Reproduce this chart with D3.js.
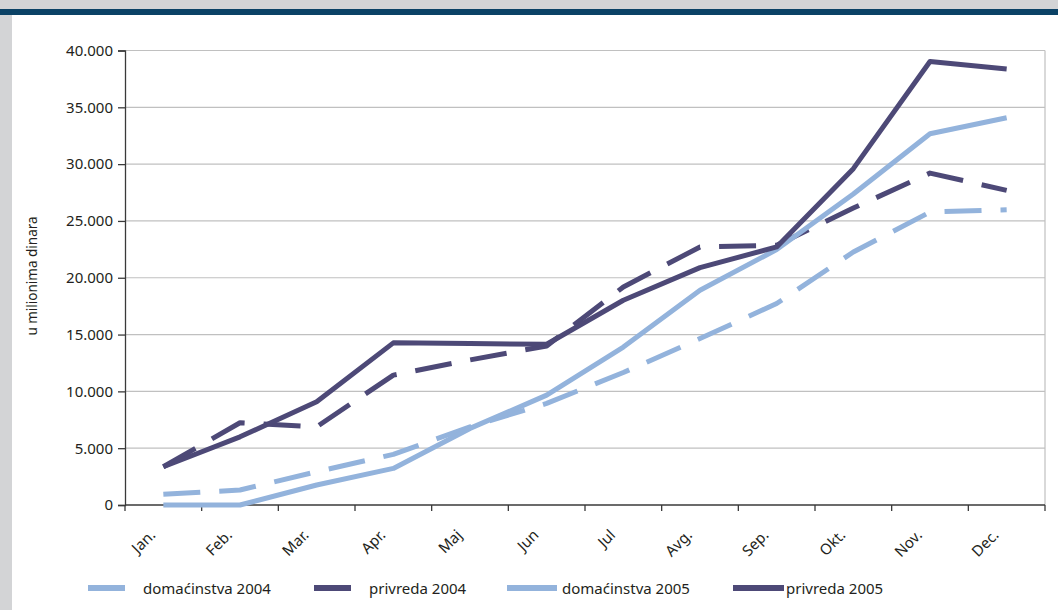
<!DOCTYPE html>
<html>
<head>
<meta charset="utf-8">
<script src="https://cdn.jsdelivr.net/npm/d3@7"></script>
<style>
  html, body { margin: 0; padding: 0; background: #ffffff; }
  svg { display: block; font-family: "Noto Sans", "Open Sans", sans-serif; }
</style>
</head>
<body>
<script>
// Monthly cumulative amounts, in millions of dinars
const months = ["Jan.", "Feb.", "Mar.", "Apr.", "Maj", "Jun", "Jul", "Avg.", "Sep.", "Okt.", "Nov.", "Dec."];
const domacinstva2004 = [940, 1320, 2930, 4460, 6880, 8940, 11660, 14650, 17730, 22270, 25780, 25990];
const privreda2004 = [3370, 7240, 6880, 11430, 12770, 14000, 19190, 22710, 22860, 26130, 29210, 27690];
const domacinstva2005 = [0, 0, 1760, 3220, 6740, 9670, 13900, 18900, 22480, 27370, 32670, 34080];
const privreda2005 = [3370, 6000, 9080, 14270, 14210, 14150, 18020, 20890, 22710, 29600, 39030, 38380];
const yTicks = [0, 5000, 10000, 15000, 20000, 25000, 30000, 35000, 40000];
const seriesNames = ["domaćinstva 2004", "privreda 2004", "domaćinstva 2005", "privreda 2005"];
const yTitle = "u milionima dinara";

const W = 1058, H = 610;
const light = "#93b3dc", dark = "#4d4977";

const series = [
  { name: seriesNames[0], values: domacinstva2004, color: light, dash: "37,19" },
  { name: seriesNames[1], values: privreda2004, color: dark, dash: "37,19" },
  { name: seriesNames[2], values: domacinstva2005, color: light, dash: null },
  { name: seriesNames[3], values: privreda2005, color: dark, dash: null }
];

const svg = d3.select("body").append("svg").attr("width", W).attr("height", H);

// page frame: grey top band, dark rule, grey left margin
svg.append("rect").attr("x", 0).attr("y", 0).attr("width", W).attr("height", 10).attr("fill", "#d3d4d6");
svg.append("rect").attr("x", 0).attr("y", 9).attr("width", W).attr("height", 6).attr("fill", "#0b4266");
svg.append("rect").attr("x", 0).attr("y", 15).attr("width", 12).attr("height", H - 15).attr("fill", "#d3d4d6");

const plot = { left: 125, right: 1045, top: 50.5, bottom: 505 };

const x = d3.scaleBand().domain(months).range([plot.left, plot.right]).padding(0);
const y = d3.scaleLinear().domain([0, 40000]).range([plot.bottom, plot.top]);

// gridlines
svg.append("g")
  .selectAll("line")
  .data(yTicks.filter(d => d > 0))
  .join("line")
  .attr("x1", plot.left).attr("x2", plot.right)
  .attr("y1", d => y(d)).attr("y2", d => y(d))
  .attr("stroke", "#c0c0c0").attr("stroke-width", 1.2);

// right border of the plot area
svg.append("line")
  .attr("x1", plot.right).attr("x2", plot.right)
  .attr("y1", plot.top).attr("y2", plot.bottom)
  .attr("stroke", "#c0c0c0").attr("stroke-width", 1.2);

// y axis
const fmt = d => d3.format(",")(d).replace(/,/g, ".");
const yAxis = svg.append("g")
  .attr("transform", `translate(${plot.left},0)`)
  .call(d3.axisLeft(y).tickValues(yTicks).tickFormat(fmt).tickSize(7).tickPadding(5));
yAxis.select(".domain").attr("stroke", "#3a3a3a").attr("stroke-width", 1.3);
yAxis.selectAll(".tick line").attr("stroke", "#3a3a3a").attr("stroke-width", 1.3);
yAxis.selectAll(".tick text")
  .attr("font-size", 15).attr("fill", "#231f20")
  .attr("font-family", "Noto Sans, sans-serif");

// x axis: ticks on category boundaries
const xAxisG = svg.append("g").attr("transform", `translate(0,${plot.bottom})`);
xAxisG.append("line")
  .attr("x1", plot.left).attr("x2", plot.right)
  .attr("stroke", "#3a3a3a").attr("stroke-width", 1.3);
const boundaries = months.map(m => x(m)).concat([plot.right]);
xAxisG.selectAll("line.tk")
  .data(boundaries)
  .join("line").attr("class", "tk")
  .attr("x1", d => d).attr("x2", d => d)
  .attr("y1", 0).attr("y2", 6)
  .attr("stroke", "#3a3a3a").attr("stroke-width", 1.3);
xAxisG.selectAll("text")
  .data(months)
  .join("text")
  .attr("transform", d => `translate(${x(d) + x.bandwidth() / 2 - 7},31) rotate(-45)`)
  .attr("text-anchor", "end")
  .attr("font-size", 15).attr("fill", "#231f20")
  .text(d => d);

// y axis title
svg.append("text")
  .attr("transform", `translate(37,276) rotate(-90)`)
  .attr("text-anchor", "middle")
  .attr("font-size", 13.5).attr("fill", "#231f20")
  .text(yTitle);

// lines
const line = d3.line()
  .x((d, i) => x(months[i]) + x.bandwidth() / 2)
  .y(d => y(d));

svg.append("g")
  .selectAll("path")
  .data(series)
  .join("path")
  .attr("d", d => line(d.values))
  .attr("fill", "none")
  .attr("stroke", d => d.color)
  .attr("stroke-width", 5)
  .attr("stroke-linejoin", "round")
  .attr("stroke-dasharray", d => d.dash);

// legend
const legendItems = [
  { s: series[0], x0: 88, x1: 125, tx: 143 },
  { s: series[1], x0: 314, x1: 351, tx: 369 },
  { s: series[2], x0: 507, x1: 557, tx: 562 },
  { s: series[3], x0: 733, x1: 784, tx: 786 }
];
const lg = svg.append("g");
lg.selectAll("line")
  .data(legendItems)
  .join("line")
  .attr("x1", d => d.x0).attr("x2", d => d.x1)
  .attr("y1", 588).attr("y2", 588)
  .attr("stroke", d => d.s.color).attr("stroke-width", 6);
lg.selectAll("text")
  .data(legendItems)
  .join("text")
  .attr("x", d => d.tx).attr("y", 594)
  .attr("font-size", 15).attr("fill", "#231f20")
  .text(d => d.s.name);
</script>
</body>
</html>
